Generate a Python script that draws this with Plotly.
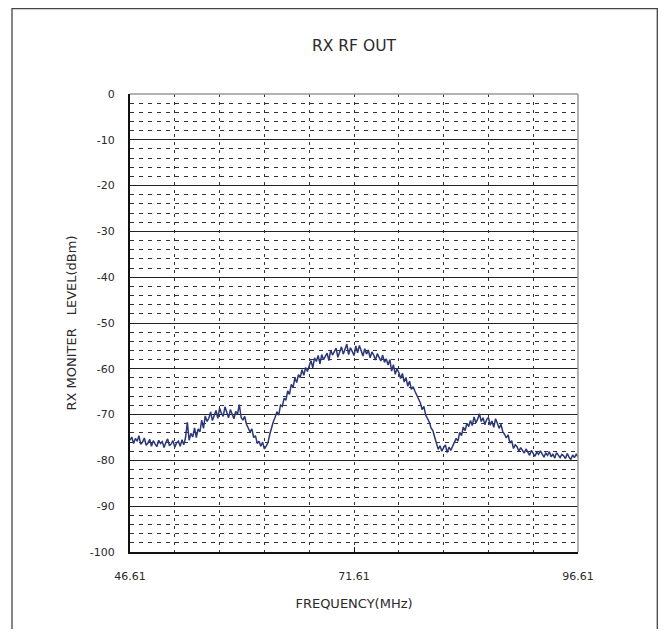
import numpy as np
import plotly.graph_objects as go

title_text = "RX RF OUT"
x_title = "FREQUENCY(MHz)"
y_title = "RX MONITER\u3000LEVEL(dBm)"

start_freq = 46.61
stop_freq = 96.61
x_tick_vals = [46.61, 71.61, 96.61]
x_tick_text = ["46.61", "71.61", "96.61"]
y_tick_vals = [0, -10, -20, -30, -40, -50, -60, -70, -80, -90, -100]
y_tick_text = ["0", "-10", "-20", "-30", "-40", "-50", "-60", "-70", "-80", "-90", "-100"]

level_dbm = [
    -75.6, -74.9, -76.3, -75.2, -75.8, -74.6, -76.5, -76.0, -75.1, -76.7,
    -76.2, -75.4, -76.9, -75.7, -76.4, -77.0, -75.6, -76.3, -75.9, -77.2,
    -76.1, -75.3, -76.8, -76.4, -75.7, -77.1, -76.2, -75.8, -76.9, -75.5,
    -76.6, -75.0,
    -71.7, -75.6, -74.1, -74.9, -72.9, -75.0, -73.1, -73.8,
    -71.2, -73.0, -70.3, -71.5, -70.8, -69.4, -71.3, -69.9, -69.1, -70.8,
    -68.6, -69.7, -70.4, -68.3, -69.5, -70.7, -68.9, -69.8, -70.9, -69.3,
    -69.9, -67.8, -70.6, -71.2, -70.4, -72.1, -72.9, -73.8, -73.1, -75.0,
    -74.6, -76.3, -75.8, -76.9, -76.0, -77.5, -76.9, -76.1, -74.3, -72.7,
    -71.5, -70.6, -69.4, -70.1, -67.9, -68.2, -66.4, -66.9, -64.8, -65.6,
    -63.4, -64.1, -62.0, -63.0, -61.3, -61.9, -60.2, -61.4, -59.7, -60.6,
    -59.3, -58.2, -59.8, -57.6, -58.4, -57.1, -58.9, -56.9, -58.0, -57.3,
    -56.6, -58.2, -55.9, -57.0, -56.4, -55.5, -57.5, -56.1, -55.2, -56.8,
    -55.6, -54.6, -56.9, -55.4, -56.2, -57.1, -55.0, -56.5, -54.9, -56.3,
    -57.2, -55.6, -56.8, -55.9, -57.6, -56.3, -57.0, -58.1, -56.7, -57.5,
    -58.3, -57.0, -58.6, -57.8, -59.2, -58.0, -60.5, -59.1, -61.2, -60.0,
    -60.8, -62.1, -61.0, -62.9, -61.9, -63.8, -62.7, -64.5, -63.9, -64.9,
    -65.8, -66.9, -67.4, -68.9, -68.2, -70.1, -70.9, -71.6, -72.9, -73.5,
    -74.9, -76.3, -77.6, -76.8, -78.0, -77.2, -76.6, -78.3, -77.1, -77.8,
    -76.9, -76.1, -75.2, -75.8, -73.9, -74.6, -72.7, -73.5, -71.9, -72.6,
    -71.3, -72.4, -70.5, -71.8, -71.0, -69.8, -71.5, -70.7, -72.2, -71.1,
    -70.6, -72.3, -71.4, -72.8, -70.9, -71.9, -73.0, -72.1, -73.7, -74.3,
    -75.1, -74.4, -76.2, -75.7, -77.4, -76.6, -77.0, -78.0, -77.2, -77.8,
    -78.4, -77.5, -78.1, -78.9, -77.8, -78.5, -79.1, -78.2, -78.7, -77.9,
    -78.8, -79.3, -78.4, -78.9, -78.1, -79.2, -78.6, -79.5, -78.3, -78.9,
    -79.4, -78.7, -79.0, -79.6, -78.5, -79.3, -79.8, -78.8, -79.4, -78.6,
    -79.2,
]

freq_mhz = np.linspace(start_freq, stop_freq, len(level_dbm))

FONT = "DejaVu Sans, Noto Sans CJK JP, sans-serif"
TXT = "#2a2a2a"

# page body has an 8px margin: figure sits at (8, 8)
W, H = 650, 621
ML, MT = 122, 86
PW, PH = 448, 458

fig = go.Figure()
fig.add_trace(go.Scatter(
    x=freq_mhz, y=level_dbm, mode="lines",
    line=dict(color="#2B3777", width=1.5),
    showlegend=False, hoverinfo="skip",
))

fig.update_layout(
    width=W, height=H,
    margin=dict(l=ML, r=W - ML - PW, t=MT, b=H - MT - PH, pad=0),
    paper_bgcolor="white", plot_bgcolor="white",
    font=dict(family=FONT, size=12, color=TXT),
    title=dict(text=title_text, x=0.5, xref="paper", xanchor="center",
               y=1 - 38 / H, yanchor="middle",
               font=dict(family=FONT, size=15.5, color=TXT)),
)

fig.update_xaxes(
    range=[start_freq, stop_freq],
    tickmode="array", tickvals=x_tick_vals, ticktext=x_tick_text,
    ticks="inside", ticklen=5, tickcolor="#111", tickwidth=1,
    ticklabelstandoff=13,
    showgrid=True, gridcolor="#333", gridwidth=1, griddash="3px,5px",
    minor=dict(tick0=start_freq, dtick=5, showgrid=True, gridcolor="#333",
               gridwidth=1, griddash="3px,5px", ticks=""),
    showline=True, linecolor="#111", linewidth=2,
    zeroline=False,
    title=dict(text=x_title, standoff=17, font=dict(family=FONT, size=13, color=TXT)),
    tickfont=dict(family=FONT, size=11, color=TXT),
)

fig.update_yaxes(
    range=[-100, 0],
    tickmode="array", tickvals=y_tick_vals, ticktext=y_tick_text,
    ticks="", ticklabelstandoff=11,
    showgrid=True, gridcolor="#222", gridwidth=1,
    minor=dict(tickmode="linear", tick0=0, dtick=2, showgrid=True, gridcolor="#333",
               gridwidth=1, griddash="4px,5px", ticks=""),
    showline=True, linecolor="#111", linewidth=2,
    zeroline=False,
    title=dict(text=y_title, standoff=10, font=dict(family=FONT, size=13, color=TXT)),
    tickfont=dict(family=FONT, size=11, color=TXT),
)

# grey top and right plot borders
fig.add_shape(type="line", xref="paper", yref="paper", x0=0, x1=1, y0=1, y1=1,
              line=dict(color="#999", width=1.5), layer="above")
fig.add_shape(type="line", xref="paper", yref="paper", x0=1, x1=1, y0=0, y1=1,
              line=dict(color="#999", width=1.5), layer="above")
# outer chart frame
fig.add_shape(type="rect", xref="paper", yref="paper",
              x0=(4 - ML) / PW, x1=(649.3 - ML) / PW,
              y0=-0.25, y1=1 + (MT - 0.7) / PH,
              line=dict(color="#444", width=1.3), layer="below")

fig.write_html("out.html")
